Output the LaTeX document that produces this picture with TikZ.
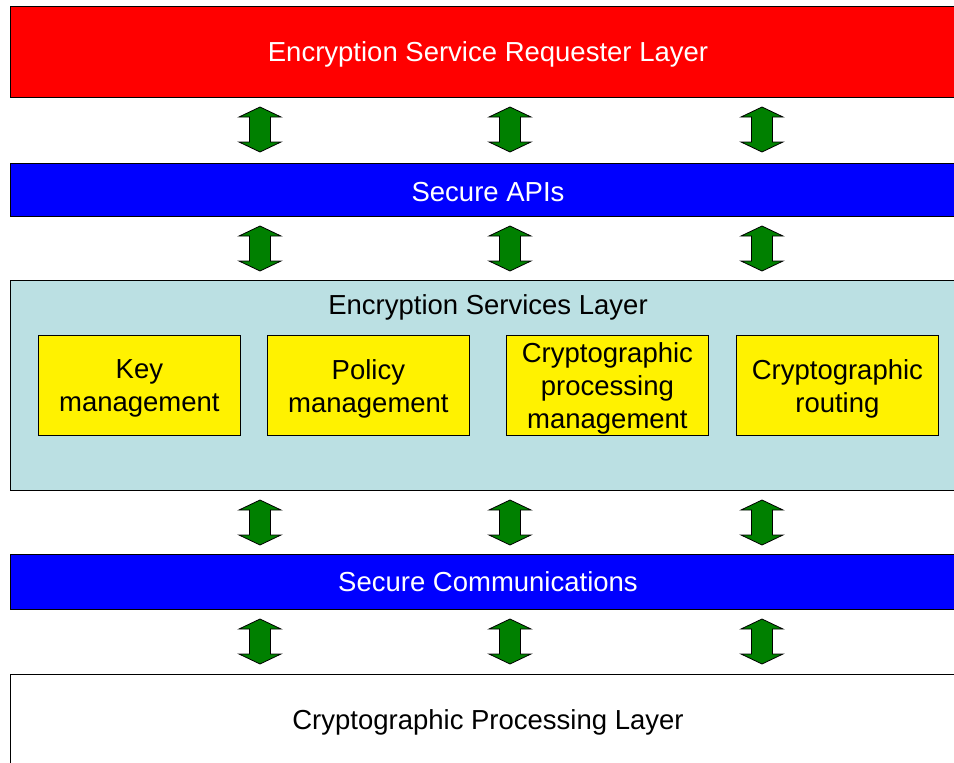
\documentclass[tikz,border=0pt]{standalone}
\usepackage{fontspec}
\setmainfont{Liberation Sans}
\definecolor{lblue}{RGB}{187,224,227}
\definecolor{agreen}{RGB}{0,128,0}
\tikzset{
  layer/.style={draw=black, line width=1pt, anchor=north west, inner sep=0pt},
  lbl/.style={anchor=center, inner sep=0pt, align=center, font=\fontsize{27.5}{33}\selectfont},
  sub/.style={draw=black, line width=0.8pt, fill=yellow, anchor=north west, inner sep=0pt,
    minimum width=202pt, minimum height=100pt},
  pics/dbarrow/.style={code={
    \draw[fill=agreen, draw=black, line width=0.8pt]
      (0,0) -- (21,10) -- (10.5,10) -- (10.5,35) -- (21,35) -- (0,45)
      -- (-21,35) -- (-10.5,35) -- (-10.5,10) -- (-21,10) -- cycle;
  }}
}
\begin{document}
\begin{tikzpicture}[x=1pt,y=-1pt]
\useasboundingbox (0,0) rectangle (954,763);
\clip (0,0) rectangle (954,763);
\fill[white] (0,0) rectangle (954,763);
% layers
\node[layer, fill=red, minimum width=956pt, minimum height=91pt] (req) at (10,6) {};
\node[lbl, text=white] (reqt) at (488,54) {Encryption Service Requester Layer};
\node[layer, fill=blue, minimum width=956pt, minimum height=53pt] (api) at (10,163) {};
\node[lbl, text=white] (apit) at (488,192) {Secure APIs};
\node[layer, fill=lblue, minimum width=956pt, minimum height=210pt] (esl) at (10,280) {};
\node[lbl] (eslt) at (488,307) {Encryption Services Layer};
\node[layer, fill=blue, minimum width=956pt, minimum height=55pt] (com) at (10,554) {};
\node[lbl, text=white] (comt) at (488,582) {Secure Communications};
\node[layer, fill=white, minimum width=956pt, minimum height=120pt] (cpl) at (10,674) {};
\node[lbl] (cplt) at (488,722) {Cryptographic Processing Layer};
% sub boxes
\node[sub] (key) at (38,335) {};
\node[sub] (pol) at (267,335) {};
\node[sub] (cpm) at (506,335) {};
\node[sub] (rout) at (736,335) {};
\node[lbl] at ([yshift=-3pt]key.center) {Key\\management};
\node[lbl] at ([yshift=-3pt]pol.center) {Policy\\management};
\node[lbl] at ([yshift=-3pt]cpm.center) {Cryptographic\\processing\\management};
\node[lbl] at ([yshift=-3pt]rout.center) {Cryptographic\\routing};
% arrows
\foreach \x in {260,510,762}{
  \pic at (\x,107) {dbarrow};
  \pic at (\x,226) {dbarrow};
  \pic at (\x,500) {dbarrow};
  \pic at (\x,619) {dbarrow};
}
\end{tikzpicture}
\end{document}
